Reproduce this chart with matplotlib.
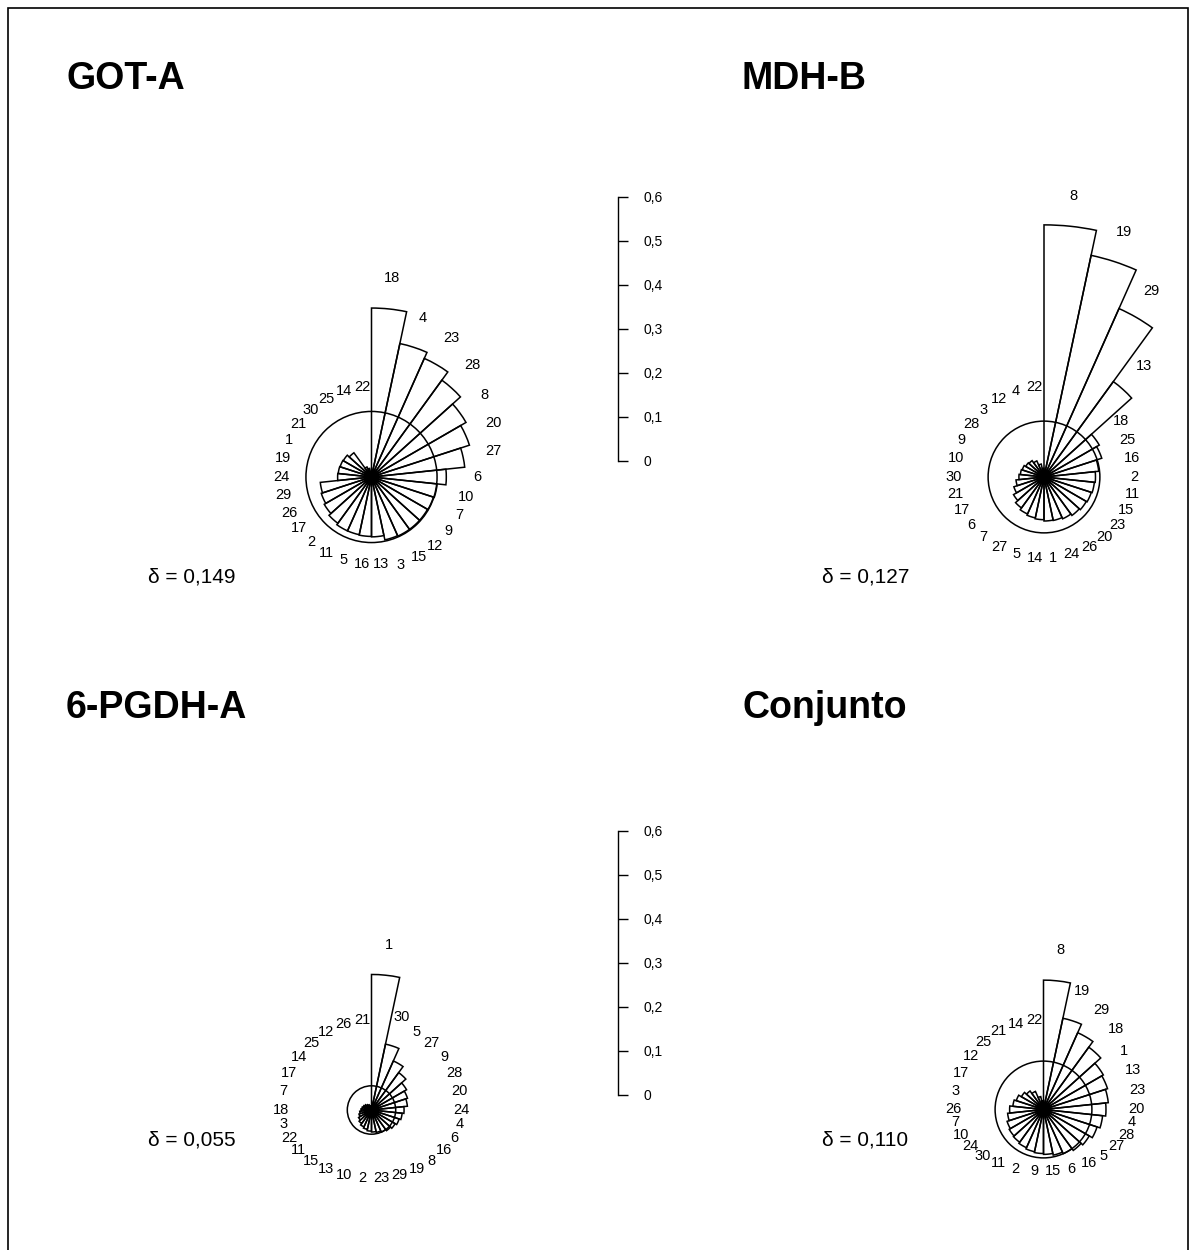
import numpy as np
import matplotlib
matplotlib.use("Agg")
import matplotlib.pyplot as plt
from matplotlib.patches import Wedge, Circle, Rectangle

FIG_W, FIG_H = 1196, 1250
PX_PER_UNIT = 440  # pixels per unit of differentiation

got_labels = ["18", "4", "23", "28", "8", "20", "27", "6", "10", "7", "9", "12", "15", "3", "13",
              "16", "5", "11", "2", "17", "26", "29", "24", "19", "1", "21", "30", "25", "14", "22"]
got_values = [0.384, 0.310, 0.295, 0.272, 0.248, 0.234, 0.213, 0.170, 0.150, 0.148, 0.147, 0.147,
              0.147, 0.146, 0.136, 0.135, 0.134, 0.134, 0.130, 0.124, 0.120, 0.117, 0.077, 0.076,
              0.075, 0.074, 0.068, 0.025, 0.020, 0.012]
got_delta = 0.149

mdh_labels = ["8", "19", "29", "13", "18", "25", "16", "2", "11", "15", "23", "20", "26", "24", "1",
              "14", "5", "27", "7", "6", "17", "21", "30", "10", "9", "28", "3", "12", "4", "22"]
mdh_values = [0.573, 0.515, 0.419, 0.268, 0.145, 0.138, 0.125, 0.117, 0.115, 0.113, 0.111, 0.108,
              0.104, 0.101, 0.100, 0.097, 0.095, 0.092, 0.087, 0.080, 0.072, 0.064, 0.057, 0.054,
              0.052, 0.048, 0.046, 0.040, 0.030, 0.020]
mdh_delta = 0.127

pgdh_labels = ["1", "30", "5", "27", "9", "28", "20", "24", "4", "6", "16", "8", "19", "29", "23",
               "2", "10", "13", "15", "11", "22", "3", "18", "7", "17", "14", "25", "12", "26", "21"]
pgdh_values = [0.308, 0.153, 0.122, 0.105, 0.092, 0.086, 0.082, 0.074, 0.070, 0.066, 0.062, 0.058,
               0.055, 0.052, 0.050, 0.048, 0.045, 0.042, 0.038, 0.034, 0.030, 0.027, 0.024, 0.022,
               0.020, 0.018, 0.015, 0.013, 0.010, 0.008]
pgdh_delta = 0.055

conj_labels = ["8", "19", "29", "18", "1", "13", "23", "20", "4", "28", "27", "5", "16", "6", "15",
               "9", "2", "11", "30", "24", "10", "7", "26", "3", "17", "12", "25", "21", "14", "22"]
conj_values = [0.294, 0.212, 0.191, 0.175, 0.157, 0.153, 0.148, 0.142, 0.135, 0.128, 0.120, 0.115,
               0.110, 0.106, 0.102, 0.100, 0.098, 0.095, 0.092, 0.090, 0.087, 0.082, 0.077, 0.070,
               0.065, 0.058, 0.052, 0.045, 0.030, 0.020]
conj_delta = 0.110

scale_ticks = [0, 0.1, 0.2, 0.3, 0.4, 0.5, 0.6]
scale_labels = ["0", "0,1", "0,2", "0,3", "0,4", "0,5", "0,6"]


def draw_rose(fig, cx, cy, labels, values, delta, squash):
    half = 250
    ax = fig.add_axes([(cx - half) / FIG_W, 1 - (cy + half) / FIG_H,
                       2 * half / FIG_W, 2 * half / FIG_H])
    lim = half / PX_PER_UNIT
    ax.set_xlim(-lim, lim)
    ax.set_ylim(-lim, lim)
    ax.axis("off")

    step = 360 / len(values)
    for i, (lab, v) in enumerate(zip(labels, values)):
        start = 90 - step * (i + 1)
        ax.add_patch(Wedge((0, 0), v, start, start + step, fill=False,
                           edgecolor="black", linewidth=1.1, clip_on=False))
        mid = np.deg2rad(start + step / 2)
        r = max(v + 0.07, 0.205)
        x, y = r * np.cos(mid), r * np.sin(mid)
        if y < 0:
            y *= squash
        ax.text(x, y, lab, ha="center", va="center", fontsize=10.5)

    ax.add_patch(Circle((0, 0), delta, fill=False, edgecolor="black",
                        linewidth=1.1, clip_on=False))


def draw_scale(fig, x_px, zero_px):
    height = max(scale_ticks) * PX_PER_UNIT
    ax = fig.add_axes([(x_px - 1) / FIG_W, 1 - zero_px / FIG_H, 1 / FIG_W, height / FIG_H])
    ax.set_ylim(0, max(scale_ticks))
    ax.set_yticks(scale_ticks)
    ax.set_yticklabels(scale_labels)
    ax.set_xticks([])
    for side in ["left", "top", "bottom"]:
        ax.spines[side].set_visible(False)
    ax.spines["right"].set_linewidth(1.0)
    ax.patch.set_visible(False)
    ax.yaxis.tick_right()
    ax.tick_params(axis="y", direction="out", length=7, width=1.0, pad=11, labelsize=10)


def main() -> None:
    plt.rcParams["font.family"] = ["Liberation Sans", "DejaVu Sans"]
    fig = plt.figure(figsize=(FIG_W / 100, FIG_H / 100), dpi=100)

    panels = [
        ("GOT-A", got_labels, got_values, got_delta, 371.5, 477, 66, 89, 148, 577, 0.97),
        ("MDH-B", mdh_labels, mdh_values, mdh_delta, 1044, 477, 742, 89, 822, 577, 0.90),
        ("6-PGDH-A", pgdh_labels, pgdh_values, pgdh_delta, 371.5, 1110, 66, 718, 148, 1140, 0.76),
        ("Conjunto", conj_labels, conj_values, conj_delta, 1043.5, 1109.5, 742, 718, 822, 1140, 0.69),
    ]
    for title, labels, values, delta, cx, cy, tx, ty, dx, dy, squash in panels:
        draw_rose(fig, cx, cy, labels, values, delta, squash)
        fig.text(tx / FIG_W, 1 - ty / FIG_H, title, fontsize=27, fontweight="bold",
                 va="baseline", ha="left")
        fig.text(dx / FIG_W, 1 - dy / FIG_H, "δ = " + f"{delta:.3f}".replace(".", ","),
                 fontsize=15, va="center", ha="left")

    draw_scale(fig, 618, 461)
    draw_scale(fig, 618, 1095)

    fig.add_artist(Rectangle((8 / FIG_W, -0.1), (1188 - 8) / FIG_W, 1.1 - 8 / FIG_H,
                             transform=fig.transFigure, fill=False, edgecolor="black",
                             linewidth=1.2))

    fig.savefig("out.png", dpi=100)
    plt.close(fig)


if __name__ == "__main__":
    main()
